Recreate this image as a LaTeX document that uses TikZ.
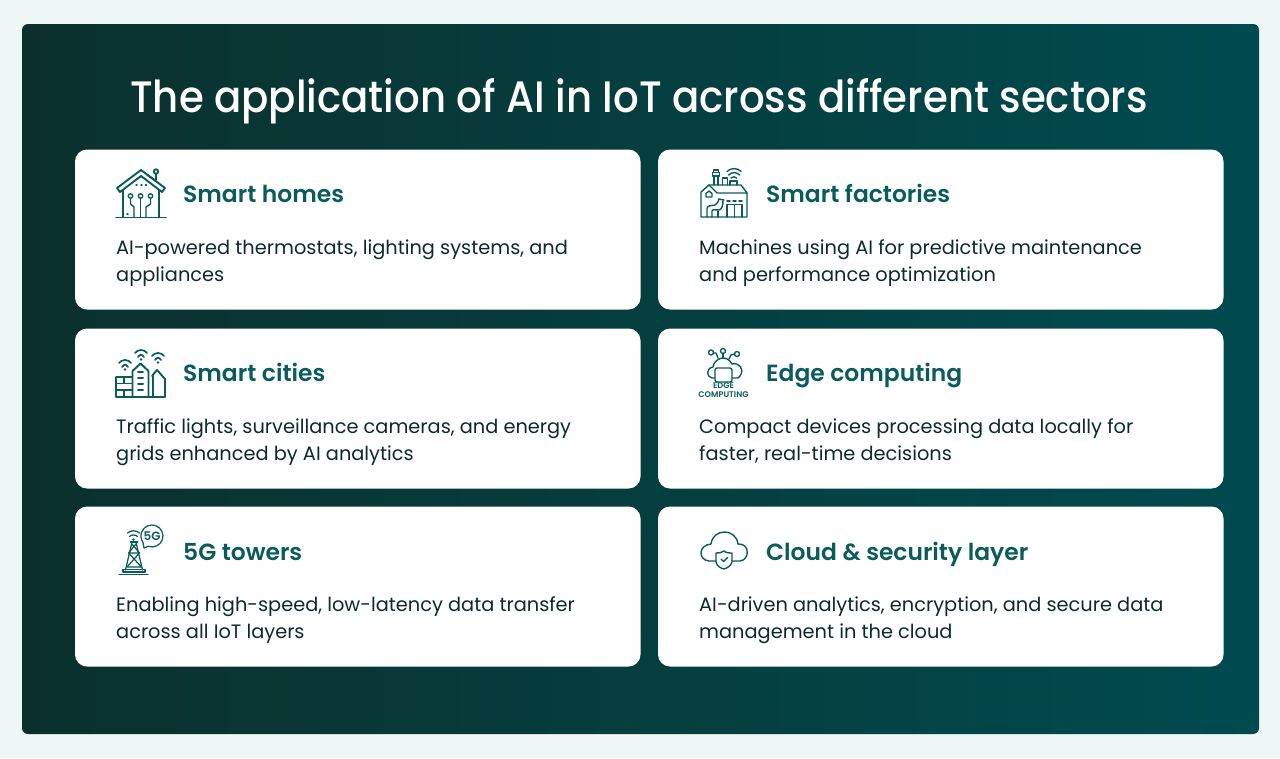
\documentclass[tikz,border=0pt]{standalone}
\usepackage{fontspec}
\setmainfont{Poppins}
\newfontfamily\titlef[FakeStretch=0.915]{Poppins Medium}
\newfontfamily\headf{Poppins SemiBold}
\newfontfamily\bodyf{Poppins}
\definecolor{pagebg}{HTML}{EFF7F6}
\definecolor{darkL}{HTML}{0B302C}
\definecolor{darkR}{HTML}{004B50}
\definecolor{teal}{HTML}{0A5C5C}
\definecolor{ink}{HTML}{0C2B29}
\tikzset{
  panel/.style={rounded corners=6pt,left color=darkL,right color=darkR,draw=none},
  card/.style={rounded corners=12pt,fill=white},
  titletext/.style={anchor=base,inner sep=0,text=white,font=\titlef\fontsize{44}{50}\selectfont},
  headtext/.style={anchor=base west,inner sep=0,text=teal,font=\headf\fontsize{23.4}{28}\selectfont},
  bodytext/.style={anchor=base west,inner sep=0,text=ink,font=\bodyf\fontsize{19.35}{27}\selectfont},
  ico/.style={draw=teal,line width=1.9pt,line join=round,line cap=round,fill=none},
  icob/.style={draw=teal,line width=1.4pt,line join=round,line cap=round,fill=none},
  icotext/.style={inner sep=0,anchor=base,text=teal}
}
\begin{document}
\begin{tikzpicture}[x=1pt,y=-1pt]
\useasboundingbox (0,0) rectangle (1280,758);
\fill[pagebg] (0,0) rectangle (1280,758);
\path[panel] (22,24) rectangle (1259,734);
\node[titletext] (title) at (639,112) {The application of AI in IoT across different sectors};
\foreach \cx/\cy/\nm in {75/149.5/a,658/149.5/b,75/328.5/c,658/328.5/d,75/506.5/e,658/506.5/f}
  \fill[card] (\cx,\cy) coordinate (\nm) rectangle ++(565.5,160);
% texts
\node[headtext] (h1) at (183,202) {Smart homes};
\node[headtext] (h2) at (766,202) {Smart factories};
\node[headtext] (h3) at (183,381) {Smart cities};
\node[headtext] (h4) at (766,381) {Edge computing};
\node[headtext] (h5) at (183,560) {5G towers};
\node[headtext] (h6) at (766,560) {Cloud \& security layer};
\node[bodytext] (b1a) at (116,254) {AI-powered thermostats, lighting systems, and};
\node[bodytext] (b1b) at (116,281) {appliances};
\node[bodytext] (b2a) at (699,254) {Machines using AI for predictive maintenance};
\node[bodytext] (b2b) at (699,281) {and performance optimization};
\node[bodytext] (b3a) at (116,433) {Traffic lights, surveillance cameras, and energy};
\node[bodytext] (b3b) at (116,460) {grids enhanced by AI analytics};
\node[bodytext] (b4a) at (699,433) {Compact devices processing data locally for};
\node[bodytext] (b4b) at (699,460) {faster, real-time decisions};
\node[bodytext] (b5a) at (116,611) {Enabling high-speed, low-latency data transfer};
\node[bodytext] (b5b) at (116,638) {across all IoT layers};
\node[bodytext] (b6a) at (699,611) {AI-driven analytics, encryption, and secure data};
\node[bodytext] (b6b) at (699,638) {management in the cloud};
% home icon
\begin{scope}[ico]
\draw (117,188) -- (141,170) -- (165,188) -- (162,192) -- (141,176) -- (120,192) -- cycle;
\draw (147.5,175) -- (156,181) (156,180) -- (156,174);
\draw (156,171.5) circle (2.2);
\draw (123,190) -- (123,217.5) (159,190) -- (159,217.5) (116,217.5) -- (166,217.5);
\end{scope}
\begin{scope}[icob]
\draw (136,185) -- (137,185) (141,185) -- (142,185) (145.5,185) -- (146.5,185);
\draw (130.5,196) circle (2.2) (140.5,196) circle (2.2) (150.5,196) circle (2.2);
\draw (130.5,198.5) -- (130.5,204) -- (134,207) -- (134,217);
\draw (140.5,198.5) -- (140.5,217);
\draw (150.5,198.5) -- (150.5,204) -- (146,207) -- (146,217);
\draw (127,214) -- (128,214);
\end{scope}
% factory icon
\begin{scope}[icob]
\draw (701,217) -- (701,192) -- (709,185) -- (717,193) -- (747,193) -- (747,217) -- cycle;
\draw (709,185) -- (741,185) -- (747,193);
\draw (709,191) -- (712,193.5) -- (712,197) -- (706,197) -- (706,193.5) -- cycle;
\draw (714,185) -- (714,176) (718,185) -- (718,176);
\draw (712.5,176) rectangle (719.5,172.5);
\draw (713.5,172.5) -- (713.5,170) -- (718.5,170) -- (718.5,172.5);
\draw (722.5,185) -- (722.5,178) -- (727.5,178) -- (727.5,185);
\draw (730,185) -- (730,181) -- (737,181) -- (737,185);
\draw (731,178) arc[start angle=225,end angle=315,radius=4];
\draw (728.5,175) arc[start angle=225,end angle=315,radius=8];
\draw (727,171.5) arc[start angle=225,end angle=315,radius=10];
\draw (707,217) -- (707,209) .. controls (707,205) and (711,206) .. (715,205) .. controls (718,204) and (718,201) .. (719,199);
\draw (712,217) -- (712,211) .. controls (712,209) and (716,210) .. (719,210) .. controls (722,209) and (723,206) .. (723,200);
\draw (719,199) -- (724,200);
\draw (727,201) -- (730,201) (733,201) -- (736,201) (739,201) -- (742,201);
\draw (727,217) -- (727,204.5) -- (742,204.5) -- (742,217) (734.5,204.5) -- (734.5,217);
\draw (718,211) -- (718,217);
\end{scope}
% city icon
\begin{scope}[ico]
\draw (116,397) -- (116,377) -- (132,377) (116,397) -- (165,397) -- (165,379) -- (157,370) -- (152,376);
\draw (132.5,397) -- (132.5,371) -- (140.5,363.5) -- (148.5,371) -- (148.5,397);
\draw (153,376) -- (153,397);
\draw (116,383.5) -- (132,383.5) (116,390) -- (132,390);
\draw (124,377) -- (124,383) (124,390) -- (124,397);
\draw[line width=2pt] (138,372) -- (143,372) (138,378) -- (143,378) (138,384) -- (143,384) (138,390) -- (143,390);
\end{scope}
\begin{scope}[icob,line width=1.7pt]
\foreach \wx/\wy in {125/366,141/356,158/359}{
  \draw (\wx-6,\wy-3) .. controls (\wx-3,\wy-7) and (\wx+3,\wy-7) .. (\wx+6,\wy-3);
  \draw (\wx-3,\wy+1) .. controls (\wx-1,\wy-2) and (\wx+1,\wy-2) .. (\wx+3,\wy+1);
  \fill[teal] (\wx,\wy+3.5) circle (1.4);
}
\end{scope}
% edge icon
\begin{scope}[icob]
\draw (711,352.5) circle (2.5) (723,351) circle (2.5) (737,354) circle (2.5);
\draw (713.5,353) -- (716,353) -- (718,358);
\draw (723,353.5) -- (723,357.5);
\draw (734.5,354) -- (731,355) -- (729,359);
\draw (715,378) -- (712,378) .. controls (706,377) and (706,368) .. (713,367) .. controls (714,359) and (726,353) .. (732,364) .. controls (739,362) and (745,369) .. (740,376) -- (738,378) -- (732.5,378);
\draw[rounded corners=2pt] (715,368) rectangle (732,382);
\end{scope}
\node[icotext,font=\headf\fontsize{8.2}{9}\selectfont] (edge1) at (723.5,388.5) {EDGE};
\node[icotext,font=\headf\fontsize{8.2}{9}\selectfont] (edge2) at (723.5,397) {COMPUTING};
% 5G icon
\begin{scope}[icob,line width=1.25pt]
\draw (125.5,570) -- (132,542) -- (136,542) -- (142.5,570);
\draw (130.5,542) -- (137.5,542);
\draw (132,544) -- (139.5,553) -- (127,567) (136,544) -- (128.5,553) -- (141.5,567) (129,553) -- (139,553) (127,567) -- (141.5,567);
\draw (123,572) -- (145,572) -- (145,569.5) -- (123,569.5) -- cycle;
\draw (119,574.5) -- (148,574.5);
\fill[teal] (133.5,539.5) circle (1.4);
\draw (129.5,536.5) .. controls (131,534.5) and (136,534.5) .. (137.5,536.5);
\draw (127.5,533) .. controls (131,530) and (136,530) .. (139.5,533);
\draw (148.2,546.3) arc[start angle=110,end angle=-215,radius=11] -- (144,548) -- cycle;
\end{scope}
\node[icotext,font=\headf\fontsize{12}{13}\selectfont] (fiveg) at (152,540.3) {5G};
% cloud icon
\begin{scope}[icob]
\draw (716,561) -- (709,561) .. controls (698,560) and (698,545) .. (711,544) .. controls (713,528) and (736,528) .. (738,544) .. controls (750,543) and (750,560) .. (740,561) -- (732,561);
\draw (724,551) .. controls (726,553) and (730,553) .. (732,553) -- (732,562) .. controls (731,566) and (727,568) .. (724,569) .. controls (720,568) and (717,566) .. (716,562) -- (716,553) .. controls (719,553) and (721,553) .. (724,551);
\draw (721,559) -- (723.5,561.5) -- (727.5,557.5);
\end{scope}
\end{tikzpicture}
\end{document}
